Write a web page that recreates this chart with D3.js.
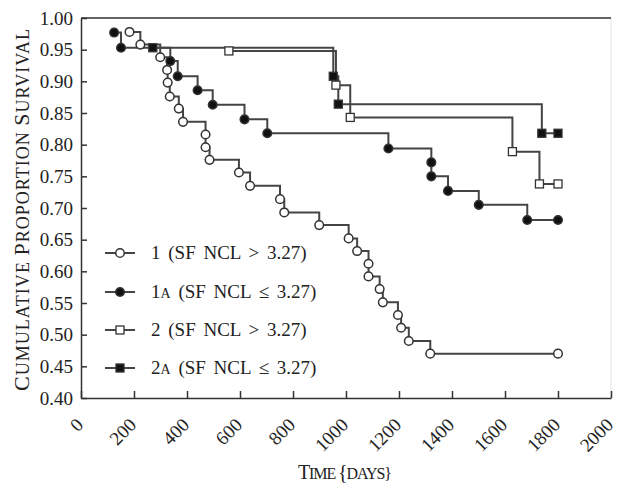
<!DOCTYPE html>
<html>
<head>
<meta charset="utf-8">
<script src="https://cdn.jsdelivr.net/npm/d3@7"></script>
<style>
body { margin: 0; background: #fff; }
text { font-family: "Liberation Serif", "DejaVu Serif", serif; fill: #222; }
</style>
</head>
<body>
<script>
var width = 617;
var height = 490;

// series 1 (open circle)
var s1Days = [183, 224, 299, 325, 327, 335, 369, 385, 470, 470, 485, 596, 638, 751, 767, 899, 1010, 1042, 1085, 1085, 1127, 1139, 1196, 1208, 1237, 1318, 1800];
var s1Surv = [0.978, 0.958, 0.938, 0.918, 0.898, 0.876, 0.857, 0.836, 0.816, 0.796, 0.776, 0.756, 0.735, 0.714, 0.693, 0.673, 0.652, 0.632, 0.612, 0.592, 0.572, 0.551, 0.531, 0.511, 0.490, 0.470, 0.470];

// series 1a (filled circle)
var s1aDays = [125, 151, 337, 365, 440, 497, 617, 703, 1160, 1322, 1322, 1385, 1501, 1684, 1800];
var s1aSurv = [0.977, 0.953, 0.932, 0.908, 0.886, 0.863, 0.840, 0.818, 0.794, 0.772, 0.750, 0.727, 0.705, 0.681, 0.681];

// series 2 (open square)
var s2Days = [558, 962, 1016, 1628, 1730, 1800];
var s2Surv = [0.948, 0.894, 0.843, 0.789, 0.738, 0.738];

// series 2a (filled square)
var s2aDays = [271, 952, 971, 1739, 1800];
var s2aSurv = [0.953, 0.908, 0.864, 0.818, 0.818];

var xTicks = [0, 200, 400, 600, 800, 1000, 1200, 1400, 1600, 1800, 2000];
var yTicks = [0.40, 0.45, 0.50, 0.55, 0.60, 0.65, 0.70, 0.75, 0.80, 0.85, 0.90, 0.95, 1.00];

var legendLabels = [
  ["1", "", " (SF NCL > 3.27)"],
  ["1", "A", " (SF NCL \u2264 3.27)"],
  ["2", "", " (SF NCL > 3.27)"],
  ["2", "A", " (SF NCL \u2264 3.27)"]
];

var padding = {top: 18, right: 6, bottom: 92, left: 81};

function zip(days, surv) {
  return days.map(function(d, i) { return [d, surv[i]]; });
}

var series = [
  {data: zip(s1Days, s1Surv), shape: "circle", fill: "#fff"},
  {data: zip(s1aDays, s1aSurv), shape: "circle", fill: "#111"},
  {data: zip(s2Days, s2Surv), shape: "square", fill: "#fff"},
  {data: zip(s2aDays, s2aSurv), shape: "square", fill: "#111"}
];

var xScale = d3.scaleLinear()
  .domain([0, 2000])
  .range([padding.left, width - padding.right]);

var yScale = d3.scaleLinear()
  .domain([0.40, 1.00])
  .range([height - padding.bottom, padding.top]);

var svg = d3.select("body")
  .append("svg")
  .attr("width", width)
  .attr("height", height);

// light frame on the right, dark line on top
svg.append("line")
  .attr("x1", xScale(2000)).attr("x2", xScale(2000))
  .attr("y1", yScale(1)).attr("y2", yScale(0.4))
  .attr("stroke", "#e4e4e4");
svg.append("line")
  .attr("x1", xScale(0)).attr("x2", xScale(2000))
  .attr("y1", yScale(1)).attr("y2", yScale(1))
  .attr("stroke", "#333").attr("stroke-width", 1.5);

var xAxis = d3.axisBottom(xScale)
  .tickValues(xTicks)
  .tickSizeInner(-7)
  .tickSizeOuter(0)
  .tickFormat(d3.format("d"));

var yAxis = d3.axisLeft(yScale)
  .tickValues(yTicks)
  .tickSizeInner(-6)
  .tickSizeOuter(0)
  .tickFormat(d3.format(".2f"));

var gx = svg.append("g")
  .attr("transform", "translate(0," + (height - padding.bottom) + ")")
  .call(xAxis);
gx.select(".domain").attr("stroke", "#333").attr("stroke-width", 1.5);
gx.selectAll(".tick line").attr("stroke", "#333").attr("stroke-width", 1.5);
gx.selectAll(".tick text")
  .attr("font-size", 19)
  .attr("font-family", "Liberation Serif")
  .attr("fill", "#222")
  .attr("text-anchor", "end")
  .attr("dy", null)
  .attr("y", 0)
  .attr("transform", "translate(3,28) rotate(-45)");

var gy = svg.append("g")
  .attr("transform", "translate(" + padding.left + ",0)")
  .call(yAxis);
gy.select(".domain").attr("stroke", "#333").attr("stroke-width", 1.5);
gy.selectAll(".tick line").attr("stroke", "#333").attr("stroke-width", 1.5);
gy.selectAll(".tick text")
  .attr("font-size", 19)
  .attr("font-family", "Liberation Serif")
  .attr("fill", "#222")
  .attr("x", -8);

// step curves
var stepLine = d3.line()
  .x(function(d) { return xScale(d[0]); })
  .y(function(d) { return yScale(d[1]); })
  .curve(d3.curveStepAfter);

series.forEach(function(s) {
  svg.append("path")
    .attr("d", stepLine(s.data))
    .attr("stroke", "#444")
    .attr("stroke-width", 2)
    .attr("fill", "none");
});

function drawMarker(g, shape, fill, cx, cy) {
  if (shape === "circle") {
    g.append("circle")
      .attr("cx", cx).attr("cy", cy).attr("r", 4.3)
      .attr("fill", fill).attr("stroke", "#333").attr("stroke-width", 1.5);
  } else {
    g.append("rect")
      .attr("x", cx - 4).attr("y", cy - 4)
      .attr("width", 8).attr("height", 8)
      .attr("fill", fill).attr("stroke", "#333").attr("stroke-width", 1.3);
  }
}

series.forEach(function(s) {
  var g = svg.append("g");
  s.data.forEach(function(d) {
    drawMarker(g, s.shape, s.fill, xScale(d[0]), yScale(d[1]));
  });
});

// legend
var legendY = [253, 292, 330, 368];
legendLabels.forEach(function(lab, i) {
  var g = svg.append("g");
  g.append("line")
    .attr("x1", 105).attr("x2", 135)
    .attr("y1", legendY[i]).attr("y2", legendY[i])
    .attr("stroke", "#444").attr("stroke-width", 2);
  drawMarker(g, series[i].shape, series[i].fill, 120, legendY[i]);
  var t = g.append("text")
    .attr("x", 151)
    .attr("y", legendY[i] + 6)
    .attr("font-size", 19)
    .attr("word-spacing", 3);
  t.append("tspan").text(lab[0]);
  if (lab[1]) t.append("tspan").attr("font-size", 14).text(lab[1]);
  t.append("tspan").text(lab[2]);
});

// small caps built from tspans: first letter of each word large, the rest smaller
function smallCaps(textSel, str, big, small) {
  str.split(" ").forEach(function(word, i) {
    if (i > 0) textSel.append("tspan").attr("font-size", small).text(" ");
    textSel.append("tspan").attr("font-size", big).text(word.charAt(0).toUpperCase());
    textSel.append("tspan").attr("font-size", small).text(word.slice(1).toUpperCase());
  });
}

var xTitle = svg.append("text")
  .attr("x", 345)
  .attr("y", 479)
  .attr("text-anchor", "middle")
  .attr("textLength", 94)
  .attr("lengthAdjust", "spacing");
smallCaps(xTitle, "Time {days}", 20, 16);

var yTitle = svg.append("text")
  .attr("transform", "translate(29," + (yScale(0.7) + 2) + ") rotate(-90)")
  .attr("text-anchor", "middle")
  .attr("textLength", 362)
  .attr("lengthAdjust", "spacing");
smallCaps(yTitle, "Cumulative Proportion Survival", 22, 18);
</script>
</body>
</html>
